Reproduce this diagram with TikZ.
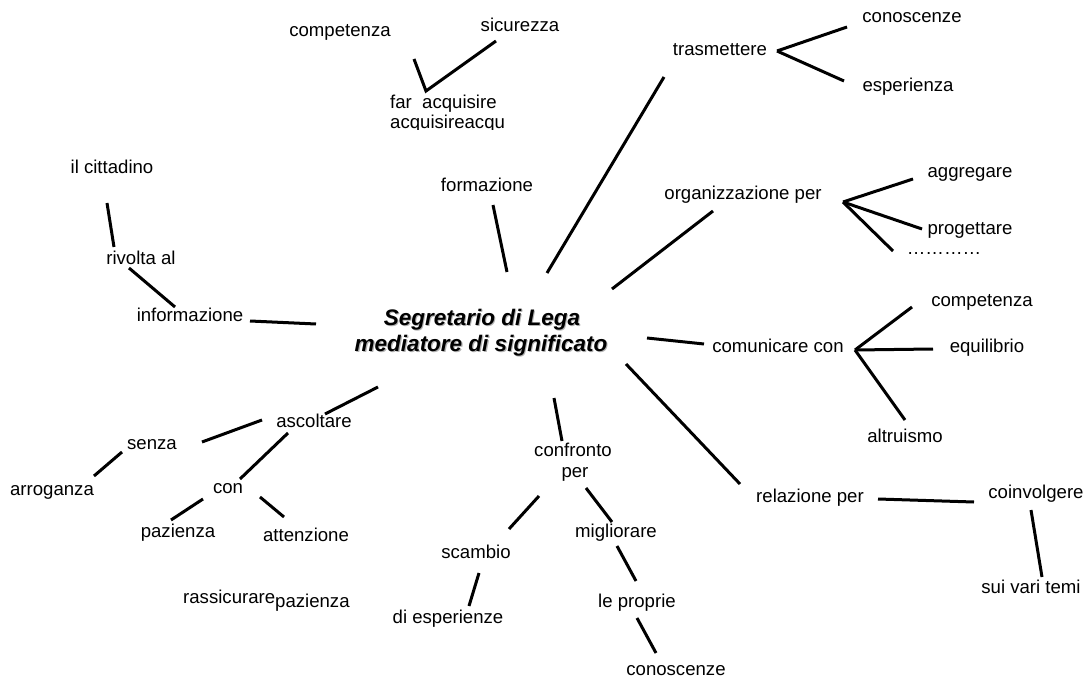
\documentclass[tikz,border=0pt]{standalone}
\usepackage{fontspec}
\setmainfont{Liberation Sans}
\begin{document}
\begin{tikzpicture}[x=1pt,y=-1pt,
  lbl/.style={inner sep=0pt, font=\fontsize{18.6}{22}\selectfont,
    text height=13.4pt, text depth=3.9pt},
  hub/.style={inner sep=0pt, font=\fontsize{22.5}{26}\selectfont\bfseries\itshape,
    text height=16.2pt, text depth=4.7pt},
  hubshadow/.style={hub, text=black!30},
  link/.style={line width=3pt}]
\useasboundingbox (0,0) rectangle (1085,679);

% central concept (with soft drop shadow)
\node[hubshadow] (hubAs) at (483.1,321.2) {Segretario di Lega};
\node[hubshadow] (hubBs) at (482.1,347.2) {mediatore di significato};
\node[hub] (hubA) at (482,320) {Segretario di Lega};
\node[hub] (hubB) at (481,346) {mediatore di significato};

% top-left cluster
\node[lbl] (competenzaA) at (340,32) {competenza};
\node[lbl] (sicurezza) at (520,27) {sicurezza};
\node[lbl,anchor=west] (faracq) at (390,104) {far\ \ acquisire};
\begin{scope}
  \clip (380,110) rectangle (530,130);
  \node[lbl,anchor=west] (acqrep) at (390,124) {acquisireacqu};
\end{scope}
\coordinate (ckA) at (414,59);
\coordinate (ckB) at (426,91);
\coordinate (ckC) at (496,41);
\draw[link] (ckA) -- (ckB) -- (ckC);

% trasmettere
\node[lbl] (trasmettere) at (720,51) {trasmettere};
\node[lbl] (conoscenzeA) at (912,18) {conoscenze};
\node[lbl] (esperienza) at (908,87) {esperienza};
\coordinate (trO) at (777,51);
\coordinate (trA) at (847,27);
\coordinate (trB) at (844,81);
\draw[link] (trO) -- (trA);
\draw[link] (trO) -- (trB);
\coordinate (trC1) at (547,273);
\coordinate (trC2) at (664,77);
\draw[link] (trC1) -- (trC2);

% formazione
\node[lbl] (formazione) at (487,187) {formazione};
\coordinate (foA) at (493,205);
\coordinate (foB) at (507,272);
\draw[link] (foA) -- (foB);

% informazione chain
\node[lbl] (cittadino) at (112,169) {il cittadino};
\node[lbl] (rivolta) at (141,260) {rivolta al};
\node[lbl] (informazione) at (190,317) {informazione};
\coordinate (ciA) at (107,203);
\coordinate (ciB) at (114,247);
\draw[link] (ciA) -- (ciB);
\coordinate (riA) at (129,268);
\coordinate (riB) at (175,307);
\draw[link] (riA) -- (riB);
\coordinate (inA) at (250,321);
\coordinate (inB) at (316,324);
\draw[link] (inA) -- (inB);

% organizzazione per
\node[lbl] (organizzazione) at (743,195) {organizzazione per};
\node[lbl] (aggregare) at (970,173) {aggregare};
\node[lbl] (progettare) at (970,230) {progettare};
\node[lbl] (dots) at (944,250) {…………};
\coordinate (orC1) at (612,289);
\coordinate (orC2) at (713,211);
\draw[link] (orC1) -- (orC2);
\coordinate (orO) at (843,202);
\coordinate (orA) at (913,179);
\coordinate (orB) at (922,229);
\coordinate (orD) at (893,251);
\draw[link] (orO) -- (orA);
\draw[link] (orO) -- (orB);
\draw[link] (orO) -- (orD);

% comunicare con
\node[lbl] (comunicare) at (778,348) {comunicare con};
\node[lbl] (competenzaB) at (982,302) {competenza};
\node[lbl] (equilibrio) at (987,348) {equilibrio};
\node[lbl] (altruismo) at (905,438) {altruismo};
\coordinate (coC1) at (647,338);
\coordinate (coC2) at (704,344);
\draw[link] (coC1) -- (coC2);
\coordinate (coO) at (855,350);
\coordinate (coA) at (912,307);
\coordinate (coB) at (933,349);
\coordinate (coD) at (905,420);
\draw[link] (coO) -- (coA);
\draw[link] (coO) -- (coB);
\draw[link] (coO) -- (coD);

% relazione per
\node[lbl] (relazione) at (810,498) {relazione per};
\node[lbl] (coinvolgere) at (1036,494) {coinvolgere};
\node[lbl] (temi) at (1031,589) {sui vari temi};
\coordinate (reC1) at (626,364);
\coordinate (reC2) at (740,484);
\draw[link] (reC1) -- (reC2);
\coordinate (reA) at (878,499);
\coordinate (reB) at (974,502);
\draw[link] (reA) -- (reB);
\coordinate (cvA) at (1031,510);
\coordinate (cvB) at (1042,577);
\draw[link] (cvA) -- (cvB);

% confronto per
\node[lbl] (confronto) at (573,452) {confronto};
\node[lbl] (per) at (575,473) {per};
\node[lbl] (scambio) at (476,554) {scambio};
\node[lbl] (esperienze) at (448,619) {di esperienze};
\node[lbl] (migliorare) at (616,533) {migliorare};
\node[lbl] (proprie) at (637,603) {le proprie};
\node[lbl] (conoscenzeB) at (676,671) {conoscenze};
\coordinate (cfC1) at (554,398);
\coordinate (cfC2) at (562,441);
\draw[link] (cfC1) -- (cfC2);
\coordinate (cfA) at (539,496);
\coordinate (cfB) at (509,529);
\draw[link] (cfA) -- (cfB);
\coordinate (scA) at (479,573);
\coordinate (scB) at (469,606);
\draw[link] (scA) -- (scB);
\coordinate (cmA) at (586,488);
\coordinate (cmB) at (612,522);
\draw[link] (cmA) -- (cmB);
\coordinate (miA) at (617,546);
\coordinate (miB) at (636,581);
\draw[link] (miA) -- (miB);
\coordinate (prA) at (637,618);
\coordinate (prB) at (656,653);
\draw[link] (prA) -- (prB);

% ascoltare
\node[lbl] (ascoltare) at (314,423) {ascoltare};
\node[lbl] (senza) at (152,445) {senza};
\node[lbl] (arroganza) at (52,491) {arroganza};
\node[lbl] (con) at (228,489) {con};
\node[lbl] (pazienzaA) at (178,533) {pazienza};
\node[lbl] (attenzione) at (306,537) {attenzione};
\node[lbl,anchor=west] (rassicurare) at (183,599) {rassicurare};
\node[lbl,anchor=west] (pazienzaB) at (275,603) {pazienza};
\coordinate (asC1) at (378,387);
\coordinate (asC2) at (325,414);
\draw[link] (asC1) -- (asC2);
\coordinate (asA) at (262,420);
\coordinate (asB) at (202,442);
\draw[link] (asA) -- (asB);
\coordinate (seA) at (122,452);
\coordinate (seB) at (94,476);
\draw[link] (seA) -- (seB);
\coordinate (acA) at (288,433);
\coordinate (acB) at (240,479);
\draw[link] (acA) -- (acB);
\coordinate (cpA) at (203,499);
\coordinate (cpB) at (171,520);
\draw[link] (cpA) -- (cpB);
\coordinate (ctA) at (260,497);
\coordinate (ctB) at (284,517);
\draw[link] (ctA) -- (ctB);
\end{tikzpicture}
\end{document}
